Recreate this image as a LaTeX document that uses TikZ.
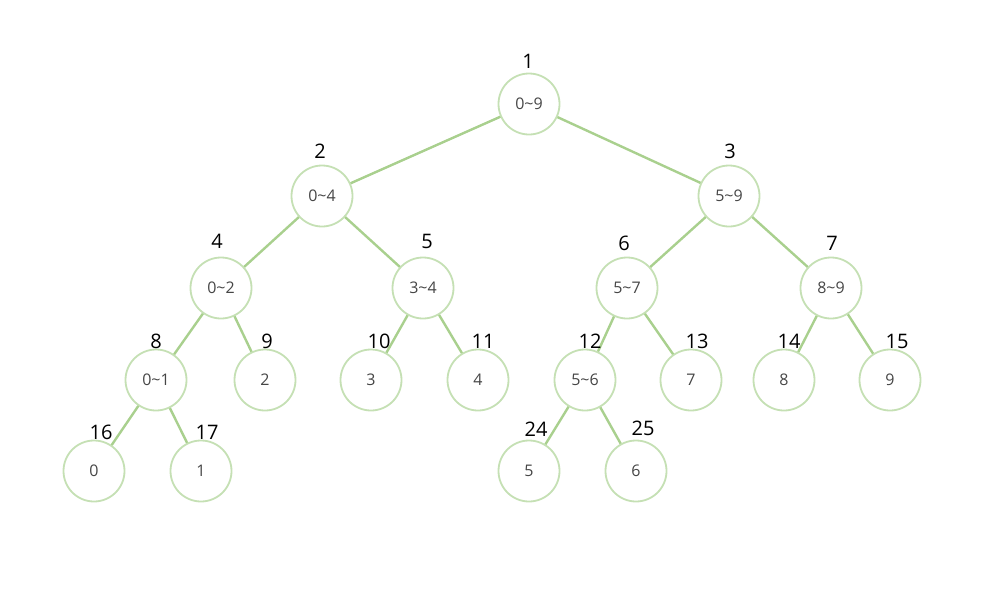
\documentclass[tikz,border=0pt]{standalone}
\usepackage{fontspec}
\setmainfont{Open Sans}
\usetikzlibrary{positioning}
\definecolor{edgegreen}{RGB}{169,208,142}
\definecolor{ringgreen}{RGB}{197,224,180}
\definecolor{valgray}{RGB}{70,70,70}
\tikzset{
  seg/.style={circle,draw=ringgreen,line width=1.8pt,minimum size=61pt,inner sep=0pt,fill=white,text=valgray,font=\fontsize{16}{18}\selectfont},
  idx/.style={inner sep=0pt,font=\fontsize{20}{22}\selectfont},
  branch/.style={draw=edgegreen,line width=2.4pt}
}
\begin{document}
\begin{tikzpicture}[x=1pt,y=-1pt]
\useasboundingbox (0,0) rectangle (1005,590);
% segment tree nodes: index/x/y/range
\foreach \id/\x/\y/\txt in {
  1/529/104/0\textasciitilde9,
  2/322/196/0\textasciitilde4,
  3/729/196/5\textasciitilde9,
  4/221/288/0\textasciitilde2,
  5/423/288/3\textasciitilde4,
  6/627/288/5\textasciitilde7,
  7/831/288/8\textasciitilde9,
  8/156/380/0\textasciitilde1,
  9/265/380/2,
  10/371/380/3,
  11/478/380/4,
  12/585/380/5\textasciitilde6,
  13/691/380/7,
  14/784/380/8,
  15/890/380/9,
  16/94/471/0,
  17/201/471/1,
  24/529/471/5,
  25/636/471/6}
  \node[seg] (n\id) at (\x,\y) {\txt};
\foreach \a/\b in {1/2,1/3,2/4,2/5,3/6,3/7,4/8,4/9,5/10,5/11,6/12,6/13,7/14,7/15,8/16,8/17,12/24,12/25}
  \draw[branch] (n\a) -- (n\b);
% index labels, on top of the branches
\foreach \id/\lx/\ly in {1/528/61,2/320/151,3/730/151,4/217/241,5/427/241,6/624/243,7/832/243,
  8/156/341,9/267/341,10/379/341,11/483/341,12/590/341,13/697/341,14/789/341,15/897/341,
  16/101/432,17/207/432,24/536/429,25/643/428}
  \node[idx] (l\id) at (\lx,\ly) {\id};
\end{tikzpicture}
\end{document}
